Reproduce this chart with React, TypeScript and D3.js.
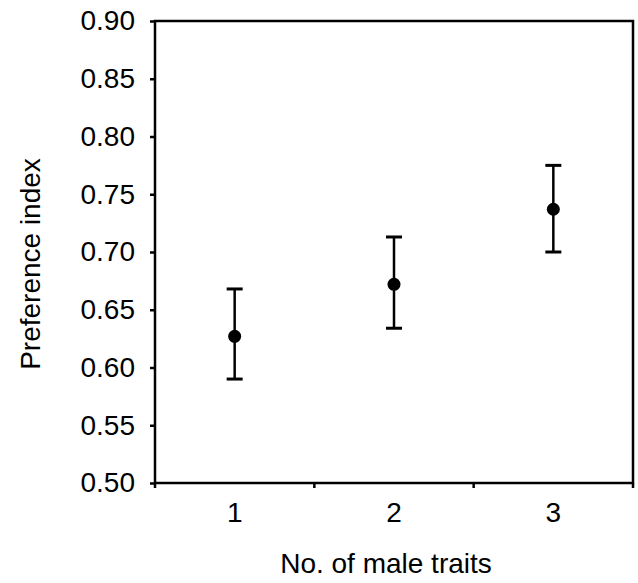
import React, { useEffect, useRef } from "react";
import * as d3 from "d3";

// values
const categories = ["1", "2", "3"];
const means = [0.627, 0.672, 0.737];
const upper = [0.668, 0.713, 0.775];
const lower = [0.590, 0.634, 0.700];
const yTicks = [0.5, 0.55, 0.6, 0.65, 0.7, 0.75, 0.8, 0.85, 0.9];

const W = 638;
const H = 583;
const margin = { top: 21, right: 5, bottom: 100, left: 155 };

const App = () => {
  const ref = useRef<SVGSVGElement>(null);

  useEffect(() => {
    if (!ref.current) return;
    const svg = d3.select(ref.current);
    svg.selectAll("*").remove();

    const width = W - margin.left - margin.right;
    const height = H - margin.top - margin.bottom;

    const x = d3.scaleBand().domain(categories).range([0, width]);
    const y = d3.scaleLinear().domain([0.5, 0.9]).range([height, 0]);

    const g = svg
      .append("g")
      .attr("transform", `translate(${margin.left},${margin.top})`);

    const font = "Arial, 'Liberation Sans', sans-serif";
    const fs = 28;

    // frame
    g.append("rect")
      .attr("width", width)
      .attr("height", height)
      .attr("fill", "none")
      .attr("stroke", "#000")
      .attr("stroke-width", 2.5);

    // y axis
    const yAxis = g
      .append("g")
      .call(
        d3
          .axisLeft(y)
          .tickValues(yTicks)
          .tickFormat(d3.format(".2f"))
          .tickSize(5)
          .tickPadding(15)
      );
    yAxis.select(".domain").remove();
    yAxis.selectAll("line").attr("stroke-width", 2.5);
    yAxis
      .selectAll("text")
      .attr("font-family", font)
      .attr("font-size", fs)
      .attr("fill", "#000");

    // x axis: ticks at the category boundaries
    const bounds = categories.map((c) => x(c)!).concat([width]);
    g.selectAll(".xtick")
      .data(bounds)
      .join("line")
      .attr("class", "xtick")
      .attr("x1", (d) => d)
      .attr("x2", (d) => d)
      .attr("y1", height)
      .attr("y2", height + 5)
      .attr("stroke", "#000")
      .attr("stroke-width", 2.5);

    g.selectAll(".xlab")
      .data(categories)
      .join("text")
      .attr("class", "xlab")
      .attr("x", (d) => x(d)! + x.bandwidth() / 2)
      .attr("y", height + 39)
      .attr("text-anchor", "middle")
      .attr("font-family", font)
      .attr("font-size", fs)
      .text((d) => d);

    // error bars
    const cap = 8;
    const pts = g
      .selectAll(".pt")
      .data(categories)
      .join("g")
      .attr("class", "pt")
      .attr("transform", (d) => `translate(${x(d)! + x.bandwidth() / 2},0)`);

    pts
      .append("line")
      .attr("y1", (_, i) => y(lower[i]))
      .attr("y2", (_, i) => y(upper[i]))
      .attr("stroke", "#000")
      .attr("stroke-width", 2.5);
    pts
      .append("line")
      .attr("x1", -cap)
      .attr("x2", cap)
      .attr("y1", (_, i) => y(upper[i]))
      .attr("y2", (_, i) => y(upper[i]))
      .attr("stroke", "#000")
      .attr("stroke-width", 3);
    pts
      .append("line")
      .attr("x1", -cap)
      .attr("x2", cap)
      .attr("y1", (_, i) => y(lower[i]))
      .attr("y2", (_, i) => y(lower[i]))
      .attr("stroke", "#000")
      .attr("stroke-width", 3);
    pts
      .append("circle")
      .attr("cy", (_, i) => y(means[i]))
      .attr("r", 6.5)
      .attr("fill", "#000");

    // axis titles
    svg
      .append("text")
      .attr("transform", `translate(40,264) rotate(-90)`)
      .attr("text-anchor", "middle")
      .attr("font-family", font)
      .attr("font-size", fs)
      .text("Preference index");

    svg
      .append("text")
      .attr("x", 386)
      .attr("y", 573)
      .attr("text-anchor", "middle")
      .attr("font-family", font)
      .attr("font-size", 28)
      .text("No. of male traits");
  }, []);

  return (
    <svg
      ref={ref}
      width={W}
      height={H}
      style={{ position: "absolute", left: 0, top: 0, background: "#fff" }}
    />
  );
};

export default App;
